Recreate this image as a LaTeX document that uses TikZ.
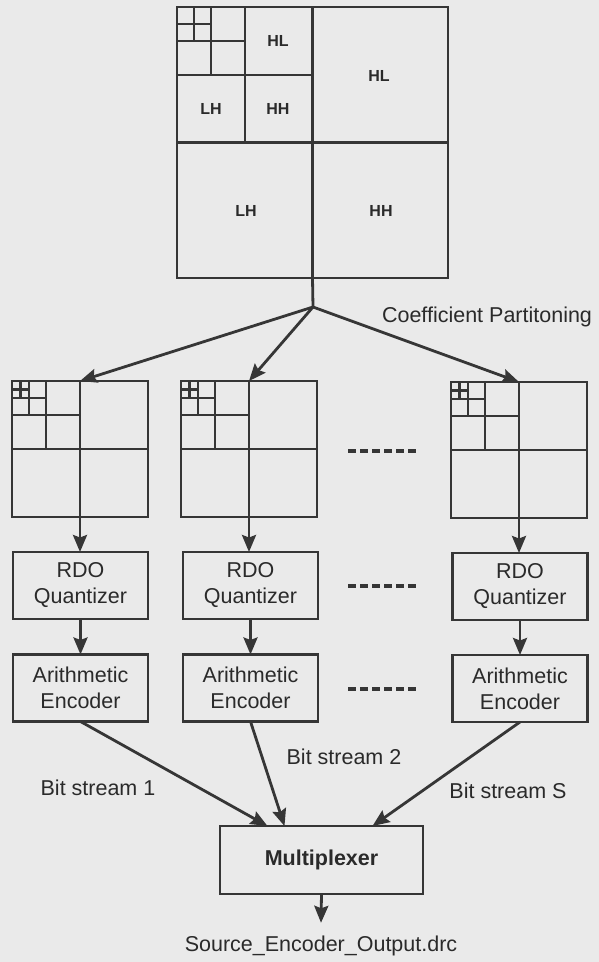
\documentclass[tikz,border=0pt]{standalone}
\usepackage{fontspec}
\setmainfont{Liberation Sans}
\usetikzlibrary{arrows.meta,positioning,calc}
\definecolor{pline}{HTML}{363636}
\definecolor{ptext}{HTML}{2A2A2A}
\definecolor{pback}{HTML}{EAEAEA}
\tikzset{
  tile/.style={draw=pline, line width=2.6pt, minimum size=#1, inner sep=0pt, outer sep=0pt},
  part/.style={draw=pline, line width=2.4pt},
  stage/.style={draw=pline, line width=2.6pt, minimum width=135pt, minimum height=67pt,
    inner sep=0pt, outer sep=0pt, align=center, text=ptext, font=\fontsize{21.5}{26}\selectfont},
  band/.style={text=ptext, inner sep=0pt, font=\fontsize{16}{16}\selectfont\bfseries},
  tag/.style={text=ptext, inner sep=0pt, font=\fontsize{21.5}{24}\selectfont},
  wire/.style={draw=pline, line width=2.8pt},
  flow/.style={wire, -{Stealth[length=17pt, width=14pt, inset=2.5pt]}},
  gap/.style={draw=pline, line width=3.4pt, dash pattern=on 8pt off 4pt},
}
\newcommand{\subbandtile}[4]{%
  \node[tile=#4pt] (#1) at ({#2+#4/2},{#3+#4/2}) {};
  \foreach \k in {1,...,4}{%
    \pgfmathsetmacro{\partsz}{#4/2^\k}
    \draw[part] ({#2+\partsz},#3) -- ++(0,{2*\partsz});
    \draw[part] (#2,{#3+\partsz}) -- ++({2*\partsz},0);
  }}

\begin{document}
\begin{tikzpicture}[x=1pt, y=-1pt]
\fill[pback] (0,0) rectangle (599,962);
\subbandtile{big}{177}{7}{271}
\node[band] (hlA) at (278,41) {HL};
\node[band] (hlB) at (379,76) {HL};
\node[band] (lhA) at (211,109) {LH};
\node[band] (hhA) at (278,109) {HH};
\node[band] (lhB) at (246,211) {LH};
\node[band] (hhB) at (381,211) {HH};
\coordinate (split) at (313,307);
\node[tag] (coef) at (487,317) {Coefficient Partitoning};
\subbandtile{sqA}{12}{381}{136}
\subbandtile{sqB}{181}{381}{136}
\subbandtile{sqC}{451}{382}{136}
\draw[wire] (big.south) -- (split);
\draw[flow] (split) -- (sqA.north);
\draw[flow] (split) -- (sqB.north);
\draw[flow] (split) -- (sqC.north);
\node[stage] (rdoA) at (80.5,585.5) {RDO\\Quantizer};
\node[stage] (rdoB) at (250.5,585.5) {RDO\\Quantizer};
\node[stage] (rdoC) at (520,586.5) {RDO\\Quantizer};
\node[stage] (aeA) at (80.5,688) {Arithmetic\\Encoder};
\node[stage] (aeB) at (250.5,688) {Arithmetic\\Encoder};
\node[stage] (aeC) at (520,688.5) {Arithmetic\\Encoder};
\node[stage, minimum width=203pt, minimum height=68pt, font=\fontsize{21.5}{26}\selectfont\bfseries] (mux) at (321.5,860) {Multiplexer};
\draw[flow] (sqA.south) -- (sqA.south |- rdoA.north);
\draw[flow] (sqB.south) -- (sqB.south |- rdoB.north);
\draw[flow] (sqC.south) -- (sqC.south |- rdoC.north);
\draw[flow] (rdoA) -- (aeA);
\draw[flow] (rdoB) -- (aeB);
\draw[flow] (rdoC) -- (aeC);
\foreach \y in {451,586,689}
  \draw[gap] (348,\y) -- (418,\y);
\draw[flow] (aeA.south) -- ([xshift=-54pt]mux.north);
\draw[flow] (aeB.south) -- ([xshift=-37pt]mux.north);
\draw[flow] (aeC.south) -- ([xshift=51pt]mux.north);
\node[tag] (bsA) at (98,788) {Bit stream 1};
\node[tag] (bsB) at (344,757) {Bit stream 2};
\node[tag] (bsS) at (508,791) {Bit stream S};
\node[tag] (outfile) at (321,946) {Source\_Encoder\_Output.drc};
\draw[flow] (mux.south) -- ([yshift=13pt]outfile.north);
\end{tikzpicture}
\end{document}
